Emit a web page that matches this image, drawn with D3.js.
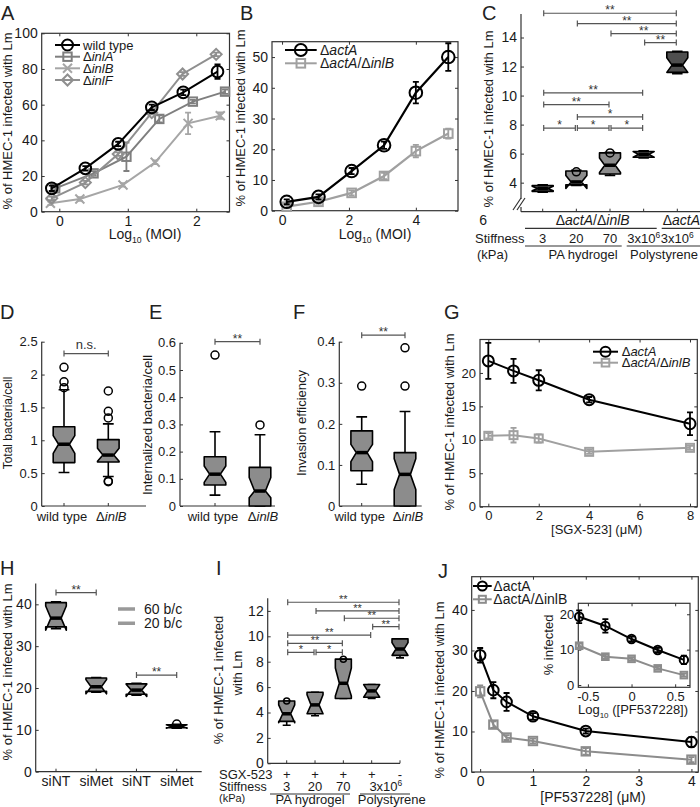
<!DOCTYPE html>
<html>
<head>
<meta charset="utf-8">
<script src="https://cdn.jsdelivr.net/npm/d3@7"></script>
<style>
  body { margin: 0; background: #fff; }
  svg { font-family: "Liberation Sans", Arial, sans-serif; }
</style>
</head>
<body>
<svg id="fig" width="700" height="807"></svg>
<script>
// ---------- data: panel A (log10 MOI vs % infected) ----------
var aXWild = [-0.11, 0.38, 0.86, 1.35, 1.81, 2.31];
var aWild = [13.1, 24.3, 38.0, 58.5, 66.9, 78.5];
var aWildErr = [1.5, 1.2, 1.2, 1.5, 1.5, 4.0];
var aXInlA = [-0.06, 0.50, 0.98, 1.46, 1.95, 2.42];
var aInlA = [13.1, 21.5, 30.8, 52.0, 61.7, 67.3];
var aInlAErr = [1.0, 1.2, 8.0, 2.0, 1.0, 1.2];
var aXInlB = [-0.13, 0.30, 0.93, 1.40, 1.88, 2.35];
var aInlB = [4.7, 7.1, 15.0, 27.7, 49.5, 53.8];
var aInlBErr = [1.0, 1.0, 1.0, 1.0, 6.0, 1.8];
var aXInlF = [-0.11, 0.38, 0.86, 1.35, 1.80, 2.29];
var aInlF = [7.5, 16.3, 32.3, 55.5, 77.2, 88.2];
var aInlFErr = [1.0, 1.0, 1.0, 1.0, 1.0, 1.0];

// ---------- panel B ----------
var bX = [0.14, 1.09, 2.08, 3.05, 4.00, 4.97];
var bActA = [2.9, 4.5, 12.9, 21.3, 38.4, 50.0];
var bActAErr = [0.8, 0.8, 1.0, 1.2, 3.5, 4.5];
var bActAInlB = [1.3, 2.9, 5.8, 11.3, 19.4, 25.1];
var bActAInlBErr = [0.5, 0.7, 0.8, 1.0, 2.0, 1.6];

// ---------- panel C (boxes) ----------
var cStiffness = ['3', '20', '70', '3x10', '3x10'];
var cQ1 = [3.40, 3.85, 4.60, 5.75, 11.60];
var cQ3 = [3.80, 4.80, 6.05, 6.15, 13.00];
var cMed = [3.60, 4.05, 5.20, 5.95, 12.10];
var cWlo = [3.35, 3.80, 4.50, 5.70, 11.50];
var cWhi = [3.85, 4.85, 6.10, 6.20, 13.05];
var cNlo = [3.45, 3.60, 4.70, 5.75, 11.60];
var cNhi = [3.75, 4.50, 5.70, 6.15, 12.60];
var cOut = [[], [4.75], [6.05], [], []];
var cSigFrom = [0, 1, 2, 3, 0, 0, 1, 0, 1, 2];
var cSigTo = [4, 4, 4, 4, 3, 2, 3, 1, 2, 3];
var cSigLevel = [15.67, 14.96, 14.27, 13.65, 10.19, 9.38, 8.53, 7.76, 7.76, 7.76];
var cSigLabel = ['**', '**', '**', '**', '**', '**', '*', '*', '*', '*'];

// ---------- panels D, E, F ----------
var defCats = ['wild type', '\u0394inlB'];
var dQ1 = [0.66, 0.67], dQ3 = [1.205, 1.01], dMed = [0.94, 0.775];
var dWlo = [0.51, 0.45], dWhi = [1.77, 1.25];
var dNlo = [0.80, 0.68], dNhi = [1.07, 0.88];
var dOut = [[1.80, 1.89, 2.11], [0.37, 0.38, 1.34, 1.44, 1.75]];

var eQ1 = [0.077, 0.0], eQ3 = [0.181, 0.142], eMed = [0.117, 0.055];
var eWlo = [0.04, 0.0], eWhi = [0.273, 0.262];
var eNlo = [0.087, 0.03], eNhi = [0.147, 0.105];
var eOut = [[0.555], [0.298]];

var fQ1 = [0.086, 0.0], fQ3 = [0.183, 0.13], fMed = [0.13, 0.077];
var fWlo = [0.053, 0.0], fWhi = [0.217, 0.23];
var fNlo = [0.108, 0.04], fNhi = [0.15, 0.115];
var fOut = [[0.292], [0.292, 0.385]];

// ---------- panel G ----------
var gX = [0, 1, 2, 4, 8];
var gActA = [21.8, 20.3, 18.9, 16.0, 12.4];
var gActAErr = [2.7, 1.8, 1.5, 0.4, 1.7];
var gActAInlB = [10.6, 10.7, 10.2, 8.2, 8.8];
var gActAInlBErr = [0.4, 1.1, 0.6, 0.3, 0.3];

// ---------- panel H ----------
var hCats = ['siNT', 'siMet', 'siNT', 'siMet'];
var hQ1 = [34.6, 19.2, 18.5, 10.5], hQ3 = [40.4, 22.4, 21.0, 11.2], hMed = [36.7, 20.3, 19.5, 10.8];
var hWlo = [34.2, 19.0, 18.3, 10.4], hWhi = [40.6, 22.5, 21.1, 11.3];
var hNlo = [33.8, 18.6, 18.0, 10.4], hNhi = [39.6, 22.0, 20.9, 11.2];
var hOut = [[], [], [], [11.4]];
var hSigFrom = [0, 2], hSigTo = [1, 3], hSigLevel = [42.8, 23.1];

// ---------- panel I ----------
var iSGX = ['+', '+', '+', '+', '-'];
var iStiffness = ['3', '20', '70'];
var iQ1 = [3.3, 3.9, 5.1, 5.2, 8.5], iQ3 = [4.9, 5.6, 8.2, 6.2, 9.8], iMed = [3.9, 4.6, 6.3, 5.7, 9.0];
var iWlo = [3.0, 3.75, 5.1, 5.1, 8.3], iWhi = [4.9, 5.6, 8.2, 6.2, 9.8];
var iNlo = [3.2, 3.9, 5.3, 5.2, 8.5], iNhi = [4.6, 5.4, 7.5, 6.2, 9.5];
var iOut = [[4.9], [], [8.2], [], []];
var iSigFrom = [0, 1, 2, 3, 0, 0, 0, 1];
var iSigTo = [4, 4, 4, 4, 3, 2, 1, 2];
var iSigLevel = [12.68, 12.0, 11.42, 10.76, 10.1, 9.45, 8.74, 8.74];
var iSigLabel = ['**', '**', '**', '**', '**', '**', '*', '*'];

// ---------- panel J ----------
var jX = [0, 0.25, 0.5, 1, 2, 4];
var jActA = [28.8, 20.2, 17.3, 13.75, 10.1, 7.4];
var jActAErr = [1.8, 2.0, 2.2, 0.8, 0.6, 1.2];
var jActAInlB = [19.9, 11.7, 8.5, 7.65, 5.1, 3.05];
var jActAInlBErr = [1.5, 0.8, 0.6, 0.6, 0.8, 0.6];
var jInsetX = [-0.6, -0.3, 0, 0.3, 0.6];
var jInsetActA = [19.3, 16.7, 13.0, 9.9, 7.1];
var jInsetActAErr = [1.8, 1.9, 0.7, 0.6, 1.2];
var jInsetActAInlB = [11.1, 8.0, 7.4, 4.7, 2.8];
var jInsetActAInlBErr = [0.6, 0.5, 0.5, 0.4, 0.4];

// =================================================================
var svg = d3.select('#fig');
var FONT = '"Liberation Sans", Arial, sans-serif';
var AX = '#333', TXT = '#1a1a1a', BOXFILL = '#8c8c8c', BR = '#555';
var fmt = function (d) { return String(d); };

var mkPanel = function (left, right, top, bottom, xDom, yDom) {
    return {
        left: left, right: right, top: top, bottom: bottom,
        x: d3.scaleLinear().domain(xDom).range([left, right]),
        y: d3.scaleLinear().domain(yDom).range([bottom, top]),
        g: svg.append('g')
    };
};

var styleAxis = function (sel, fs) {
    sel.attr('font-family', FONT).attr('font-size', fs);
    sel.select('.domain').remove();
    sel.selectAll('.tick line').attr('stroke', AX);
    sel.selectAll('.tick text').attr('fill', TXT);
};

// text with italic gene names
var rich = function (t, str, ital) {
    str.split(/(inl[A-Z]|actA)/).forEach(function (s) {
        if (!s) { return; }
        var ts = t.append('tspan').text(s);
        if (ital && /^(inl[A-Z]|actA)$/.test(s)) { ts.attr('font-style', 'italic'); }
    });
    return t;
};

var label = function (x, y, str, fs, anchor, rot) {
    var t = svg.append('text')
        .attr('font-size', fs).attr('fill', TXT)
        .attr('text-anchor', anchor || 'middle');
    if (rot) {
        t.attr('transform', 'translate(' + x + ',' + y + ') rotate(-90)');
    } else {
        t.attr('x', x).attr('y', y);
    }
    if (str !== null) { t.text(str); }
    return t;
};

// framed axes, ticks pointing inward on all four sides
var frame = function (p, xTicks, yTicks, fs, maxX) {
    var g = p.g;
    g.append('rect')
        .attr('x', p.left).attr('y', p.top)
        .attr('width', p.right - p.left).attr('height', p.bottom - p.top)
        .attr('fill', 'none').attr('stroke', AX).attr('stroke-width', 1.2);
    var xb = g.append('g').attr('transform', 'translate(0,' + p.bottom + ')')
        .call(d3.axisBottom(p.x).tickValues(xTicks).tickSize(-3).tickPadding(4).tickFormat(fmt))
        .call(styleAxis, fs);
    if (maxX !== undefined) {
        xb.selectAll('.tick').filter(function (d) { return d > maxX; }).select('line').remove();
    }
    g.append('g').attr('transform', 'translate(' + p.left + ',0)')
        .call(d3.axisLeft(p.y).tickValues(yTicks).tickSize(-3).tickPadding(4).tickFormat(fmt))
        .call(styleAxis, fs);
    g.append('g').attr('transform', 'translate(0,' + p.top + ')')
        .call(d3.axisTop(p.x).tickValues(xTicks.filter(function (d) { return maxX === undefined || d <= maxX; })).tickSize(-3).tickFormat(''))
        .call(styleAxis, fs);
    g.append('g').attr('transform', 'translate(' + p.right + ',0)')
        .call(d3.axisRight(p.y).tickValues(yTicks).tickSize(-3).tickFormat(''))
        .call(styleAxis, fs);
};

var marker = function (g, type, cx, cy, s, color) {
    if (type === 'circle') {
        g.append('circle').attr('cx', cx).attr('cy', cy).attr('r', s)
            .attr('fill', 'none').attr('stroke', color).attr('stroke-width', 2);
    } else if (type === 'square') {
        g.append('rect').attr('x', cx - s).attr('y', cy - s).attr('width', 2 * s).attr('height', 2 * s)
            .attr('fill', 'none').attr('stroke', color).attr('stroke-width', 2);
    } else if (type === 'x') {
        g.append('path').attr('d', 'M' + (cx - s) + ',' + (cy - s) + 'L' + (cx + s) + ',' + (cy + s) +
            'M' + (cx - s) + ',' + (cy + s) + 'L' + (cx + s) + ',' + (cy - s))
            .attr('stroke', color).attr('stroke-width', 2);
    } else if (type === 'diamond') {
        g.append('path').attr('d', 'M' + cx + ',' + (cy - s) + 'L' + (cx + s) + ',' + cy +
            'L' + cx + ',' + (cy + s) + 'L' + (cx - s) + ',' + cy + 'Z')
            .attr('fill', 'none').attr('stroke', color).attr('stroke-width', 2);
    }
};

var series = function (p, xs, ys, errs, color, type, s, lw) {
    var g = p.g.append('g');
    var pts = xs.map(function (d, i) { return [d, ys[i]]; });
    g.append('path').datum(pts)
        .attr('d', d3.line().x(function (d) { return p.x(d[0]); }).y(function (d) { return p.y(d[1]); }))
        .attr('fill', 'none').attr('stroke', color).attr('stroke-width', lw || 2);
    pts.forEach(function (d, i) {
        var cx = p.x(d[0]), y1 = p.y(d[1] - errs[i]), y2 = p.y(d[1] + errs[i]);
        g.append('path')
            .attr('d', 'M' + cx + ',' + y1 + 'V' + y2 + 'M' + (cx - 3) + ',' + y1 + 'H' + (cx + 3) +
                'M' + (cx - 3) + ',' + y2 + 'H' + (cx + 3))
            .attr('stroke', color).attr('stroke-width', 1.8).attr('fill', 'none');
        marker(g, type, cx, p.y(d[1]), s, color);
    });
};

var legend = function (items, x0, x1, xt, ys, fs, ital) {
    items.forEach(function (it, i) {
        var g = svg.append('g');
        g.append('line').attr('x1', x0).attr('x2', x1).attr('y1', ys[i]).attr('y2', ys[i])
            .attr('stroke', it.color).attr('stroke-width', 2);
        marker(g, it.type, (x0 + x1) / 2, ys[i], it.s, it.color);
        rich(label(xt, ys[i] + fs * 0.36, null, fs, 'start'), it.name, ital);
    });
};

// box-plot axes (left + bottom only)
var boxAxes = function (p, cx, xEnd, yTicks, fs, yFmt) {
    var g = p.g;
    g.append('line').attr('x1', p.left).attr('x2', p.left).attr('y1', p.top).attr('y2', p.bottom)
        .attr('stroke', AX).attr('stroke-width', 1.2);
    g.append('line').attr('x1', p.left).attr('x2', xEnd).attr('y1', p.bottom).attr('y2', p.bottom)
        .attr('stroke', AX).attr('stroke-width', 1.2);
    g.append('g').attr('transform', 'translate(' + p.left + ',0)')
        .call(d3.axisLeft(p.y).tickValues(yTicks).tickSize(-3).tickPadding(4).tickFormat(yFmt || fmt))
        .call(styleAxis, fs);
    cx.domain().forEach(function (k) {
        g.append('line').attr('x1', cx(k)).attr('x2', cx(k)).attr('y1', p.bottom).attr('y2', p.bottom - 3)
            .attr('stroke', AX);
    });
};

var notchBox = function (p, x, hw, b, fill) {
    var y = p.y, g = p.g.append('g');
    var L = x - hw, R = x + hw, iL = x - hw / 2, iR = x + hw / 2;
    // whiskers
    g.append('path')
        .attr('d', 'M' + x + ',' + y(b.q3) + 'V' + y(b.whi) + 'M' + x + ',' + y(b.q1) + 'V' + y(b.wlo) +
            'M' + iL + ',' + y(b.whi) + 'H' + iR + 'M' + iL + ',' + y(b.wlo) + 'H' + iR)
        .attr('stroke', '#000').attr('stroke-width', 1.6).attr('fill', 'none');
    var pts = [[L, b.q3], [R, b.q3], [R, b.nhi], [iR, b.med], [R, b.nlo], [R, b.q1],
        [L, b.q1], [L, b.nlo], [iL, b.med], [L, b.nhi]];
    g.append('path')
        .attr('d', 'M' + pts.map(function (d) { return d[0] + ',' + y(d[1]); }).join('L') + 'Z')
        .attr('fill', fill).attr('stroke', '#000').attr('stroke-width', 1.6)
        .attr('stroke-linejoin', 'round');
    g.append('line').attr('x1', iL).attr('x2', iR).attr('y1', y(b.med)).attr('y2', y(b.med))
        .attr('stroke', '#000').attr('stroke-width', 3.5);
    b.out.forEach(function (o) {
        g.append('circle').attr('cx', x).attr('cy', y(o)).attr('r', hw > 9 ? 4 : 3)
            .attr('fill', 'none').attr('stroke', '#000').attr('stroke-width', 1.5);
    });
};

var boxes = function (p, cx, hw, q1, q3, med, wlo, whi, nlo, nhi, out, fills) {
    cx.domain().forEach(function (k) {
        notchBox(p, cx(k), hw, {
            q1: q1[k], q3: q3[k], med: med[k], wlo: wlo[k], whi: whi[k],
            nlo: nlo[k], nhi: nhi[k], out: out[k]
        }, fills ? fills[k] : BOXFILL);
    });
};

var bracket = function (p, x1, x2, v, txt, fs) {
    var y = p.y(v);
    p.g.append('path')
        .attr('d', 'M' + x1 + ',' + y + 'H' + x2 + 'M' + x1 + ',' + (y - 3) + 'V' + (y + 3) +
            'M' + x2 + ',' + (y - 3) + 'V' + (y + 3))
        .attr('stroke', BR).attr('stroke-width', 1.2).attr('fill', 'none');
    var isStar = txt.indexOf('*') === 0;
    p.g.append('text').attr('x', (x1 + x2) / 2).attr('y', isStar ? y + 1 : y - 5)
        .attr('text-anchor', 'middle').attr('font-size', fs || 12).attr('fill', '#333').text(txt);
};

var sup = function (t, base, s) {
    t.append('tspan').text(base);
    t.append('tspan').attr('dy', -5).attr('font-size', '0.65em').text(s);
    return t;
};

var subLog = function (t, after) {
    t.append('tspan').text('Log');
    t.append('tspan').attr('dy', 4).attr('font-size', '0.62em').text('10');
    t.append('tspan').attr('dy', -4).text(after);
    return t;
};

var YLAB = '% of HMEC-1 infected with Lm';

// ================= Panel A =================
var pA = mkPanel(41.7, 229.5, 33.3, 211.7, [-0.257, 2.485], [0, 100]);
frame(pA, [0, 1, 2], [0, 20, 40, 60, 80, 100], 14);
series(pA, aXInlB, aInlB, aInlBErr, '#a6a6a6', 'x', 4.5);
series(pA, aXInlA, aInlA, aInlAErr, '#7f7f7f', 'square', 4.2);
series(pA, aXInlF, aInlF, aInlFErr, '#8f8f8f', 'diamond', 5.5);
series(pA, aXWild, aWild, aWildErr, '#000', 'circle', 5.8);
legend([
    { name: 'wild type', color: '#000', type: 'circle', s: 5.5 },
    { name: '\u0394inlA', color: '#7f7f7f', type: 'square', s: 4.2 },
    { name: '\u0394inlB', color: '#a6a6a6', type: 'x', s: 4.5 },
    { name: '\u0394inlF', color: '#8f8f8f', type: 'diamond', s: 5.5 }
], 55, 80, 83, [45, 56.7, 68.3, 80], 13, true);
label(12, 121, YLAB, 13, 'middle', true);
subLog(label(145, 239, null, 14), ' (MOI)');

// ================= Panel B =================
var pB = mkPanel(272, 458, 41.7, 210.7, [-0.30, 5.26], [0, 55]);
frame(pB, [0, 2, 4, 6], [0, 10, 20, 30, 40, 50], 14, 5.26);
series(pB, bX, bActAInlB, bActAInlBErr, '#a0a0a0', 'square', 4.3, 2.2);
series(pB, bX, bActA, bActAErr, '#000', 'circle', 6.3, 2.2);
legend([
    { name: '\u0394actA', color: '#000', type: 'circle', s: 6 },
    { name: '\u0394actA/\u0394inlB', color: '#a0a0a0', type: 'square', s: 4.3 }
], 285, 316.7, 320, [50, 63.3], 14, true);
label(245, 118, YLAB, 13, 'middle', true);
subLog(label(375, 239, null, 14), ' (MOI)');

// ================= Panel C =================
var pC = mkPanel(521, 700, 14, 211.7, [0, 1], [2, 15.62]);
var cxC = d3.scalePoint().domain(d3.range(cQ1.length)).range([542.7, 677.3]);
boxAxes(pC, cxC, 700, [4, 6, 8, 10, 12, 14], 14);
// axis break
pC.g.append('rect').attr('x', 516).attr('y', 199).attr('width', 9).attr('height', 8).attr('fill', '#fff');
pC.g.append('path').attr('d', 'M513,210L521,198M517,210L525,198')
    .attr('stroke', AX).attr('stroke-width', 1.2);
boxes(pC, cxC, 10.5, cQ1, cQ3, cMed, cWlo, cWhi, cNlo, cNhi, cOut,
    ['#5a5a5a', '#8c8c8c', '#8c8c8c', '#6a6a6a', '#4f4f4f']);
cSigFrom.forEach(function (f, i) {
    bracket(pC, cxC(f) + 1, cxC(cSigTo[i]) - 1, cSigLevel[i], cSigLabel[i]);
});
label(493, 119, YLAB, 13, 'middle', true);
rich(label(592.7, 225, null, 14), '\u0394actA/\u0394inlB', true);
rich(label(700, 225, null, 14, 'end'), '\u0394actA', true);
svg.append('path').attr('d', 'M525,228.3H656.7M661.7,228.3H700M525,246H621.7M626.7,246H700')
    .attr('stroke', AX).attr('stroke-width', 1.2);
label(475, 243, 'Stiffness', 13, 'start');
label(477, 259, '(kPa)', 13, 'start');
cStiffness.forEach(function (s, i) {
    var t = label(cxC(i), 243, null, 13);
    if (s === '3x10') { sup(t, s, '6'); } else { t.text(s); }
});
label(583, 259, 'PA hydrogel', 13);
label(664, 259, 'Polystyrene', 13);

// ================= Panel D =================
var pD = mkPanel(41.7, 146, 341.7, 506, [0, 1], [0, 2.5]);
var cxD = d3.scalePoint().domain(d3.range(2)).range([64, 108.3]);
boxAxes(pD, cxD, 146, [0, 0.5, 1, 1.5, 2, 2.5], 13);
boxes(pD, cxD, 10.8, dQ1, dQ3, dMed, dWlo, dWhi, dNlo, dNhi, dOut);
bracket(pD, cxD(0), cxD(1), 2.32, 'n.s.', 13);
label(12, 423, 'Total bacteria/cell', 12, 'middle', true);

// ================= Panel E =================
var pE = mkPanel(180, 275, 342.8, 506, [0, 1], [0, 0.6]);
var cxE = d3.scalePoint().domain(d3.range(2)).range([215, 260]);
boxAxes(pE, cxE, 275, [0, 0.1, 0.2, 0.3, 0.4, 0.5, 0.6], 13);
boxes(pE, cxE, 10.8, eQ1, eQ3, eMed, eWlo, eWhi, eNlo, eNhi, eOut);
bracket(pE, cxE(0), cxE(1), 0.604, '**');
label(152, 425, 'Internalized bacteria/cell', 13, 'middle', true);

// ================= Panel F =================
var pF = mkPanel(339.3, 421.7, 341.7, 506, [0, 1], [0, 0.4]);
var cxF = d3.scalePoint().domain(d3.range(2)).range([361.7, 405]);
boxAxes(pF, cxF, 421.7, [0, 0.1, 0.2, 0.3, 0.4], 13);
boxes(pF, cxF, 10.8, fQ1, fQ3, fMed, fWlo, fWhi, fNlo, fNhi, fOut);
bracket(pF, cxF(0), cxF(1), 0.416, '**');
label(306, 423, 'Invasion efficiency', 13, 'middle', true);

[cxD, cxE, cxF].forEach(function (c) {
    rich(label(c(0) - 2, 521, null, 13), defCats[0], true);
    rich(label(c(1) + 3, 521, null, 13), defCats[1], true);
});

// ================= Panel G =================
var pG = mkPanel(480, 697.3, 339.5, 506.7, [-0.33, 8.29], [0, 25]);
frame(pG, [0, 2, 4, 6, 8], [0, 5, 10, 15, 20], 13);
series(pG, gX, gActAInlB, gActAInlBErr, '#a0a0a0', 'square', 4);
series(pG, gX, gActA, gActAErr, '#000', 'circle', 5.5);
legend([
    { name: '\u0394actA', color: '#000', type: 'circle', s: 5 },
    { name: '\u0394actA/\u0394inlB', color: '#a0a0a0', type: 'square', s: 3.8 }
], 593, 618, 621.7, [351.7, 362.7], 13, true);
label(454, 422, YLAB, 13, 'middle', true);
label(596.7, 534, '[SGX-523] (\u03bcM)', 13);

// ================= Panel H =================
var pH = mkPanel(35.7, 201.7, 583.4, 771.7, [0, 1], [0, 45]);
var cxH = d3.scalePoint().domain(d3.range(4)).range([56, 176.7]);
boxAxes(pH, cxH, 201.7, [0, 10, 20, 30, 40], 14);
boxes(pH, cxH, 10.3, hQ1, hQ3, hMed, hWlo, hWhi, hNlo, hNhi, hOut);
hSigFrom.forEach(function (f, i) { bracket(pH, cxH(f), cxH(hSigTo[i]), hSigLevel[i], '**'); });
hCats.forEach(function (s, i) { label(cxH(i), 786, s, 14); });
svg.append('path').attr('d', 'M118,609H135M118,623.3H135').attr('stroke', '#999').attr('stroke-width', 3.5);
label(144, 614, '60 b/c', 14, 'start');
label(144, 628, '20 b/c', 14, 'start');
label(12, 672, YLAB, 13, 'middle', true);

// ================= Panel I =================
var pI = mkPanel(267.7, 400, 598.2, 763.3, [0, 1], [0, 13]);
var cxI = d3.scalePoint().domain(d3.range(5)).range([286.7, 400]);
boxAxes(pI, cxI, 400, [0, 2, 4, 6, 8, 10, 12], 14);
boxes(pI, cxI, 8, iQ1, iQ3, iMed, iWlo, iWhi, iNlo, iNhi, iOut,
    ['#8c8c8c', '#8c8c8c', '#8c8c8c', '#7c7c7c', '#6e6e6e']);
iSigFrom.forEach(function (f, i) {
    bracket(pI, cxI(f) + 1, cxI(iSigTo[i]) - 1, iSigLevel[i], iSigLabel[i], 11);
});
label(222.5, 680, '% of HMEC-1 infected', 13, 'middle', true);
label(241.7, 673, 'with Lm', 13, 'middle', true);
label(219, 778.5, 'SGX-523', 13, 'start');
iSGX.forEach(function (s, i) { label(cxI(i), 778.5, s, 13); });
label(219, 791, 'Stiffness', 12.5, 'start');
iStiffness.forEach(function (s, i) { label(cxI(i), 791, s, 13); });
sup(label((cxI(3) + cxI(4)) / 2, 791, null, 13), '3x10', '6');
label(219, 802, '(kPa)', 11, 'start');
svg.append('path').attr('d', 'M270,794H350M360,794H410').attr('stroke', AX).attr('stroke-width', 1.2);
label(310, 804, 'PA hydrogel', 13);
label(391.7, 804, 'Polystyrene', 13);

// ================= Panel J =================
var pJ = mkPanel(471.7, 698.3, 576.7, 772, [-0.16, 4.13], [0, 48.2]);
frame(pJ, [0, 1, 2, 3, 4], [0, 10, 20, 30, 40], 14);
series(pJ, jX, jActAInlB, jActAInlBErr, '#8c8c8c', 'square', 4.2);
series(pJ, jX, jActA, jActAErr, '#000', 'circle', 5.3);
legend([
    { name: '\u0394actA', color: '#000', type: 'circle', s: 4.5 },
    { name: '\u0394actA/\u0394inlB', color: '#8c8c8c', type: 'square', s: 3.5 }
], 473, 491.7, 493.3, [586, 599.3], 14, false);
label(444, 690, YLAB, 13, 'middle', true);
label(593, 802, '[PF537228] (\u03bcM)', 14);

// inset
var pJi = mkPanel(578.3, 690, 603.3, 687.3, [-0.61, 0.67], [-0.65, 23.1]);
pJi.g.append('rect').attr('x', 578.3).attr('y', 603.3).attr('width', 111.7).attr('height', 84).attr('fill', '#fff');
frame(pJi, [-0.5, 0, 0.5], [0, 10, 20], 13);
series(pJi, jInsetX, jInsetActAInlB, jInsetActAInlBErr, '#8c8c8c', 'square', 3.3);
series(pJi, jInsetX, jInsetActA, jInsetActAErr, '#000', 'circle', 4.2);
label(553, 645, '% infected', 13, 'middle', true);
subLog(label(633, 714, null, 13), ' ([PF537228])');

// ================= panel letters =================
[['A', 1, 20], ['B', 240, 20], ['C', 482, 20], ['D', 0, 319], ['E', 149, 319], ['F', 293, 319],
 ['G', 444, 319], ['H', 0, 575], ['I', 216, 575], ['J', 438, 578]].forEach(function (d) {
    svg.append('text').attr('x', d[1]).attr('y', d[2]).attr('font-size', 20).attr('fill', '#222').text(d[0]);
});
</script>
</body>
</html>
